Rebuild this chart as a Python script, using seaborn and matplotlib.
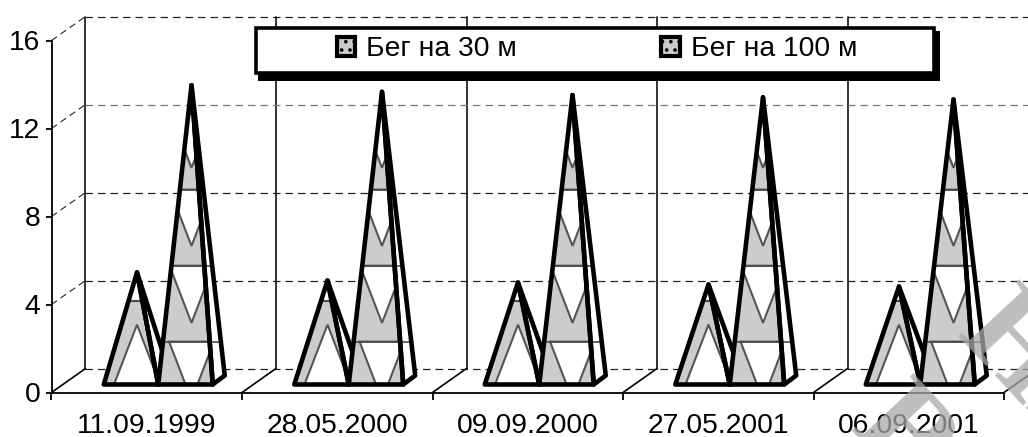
import numpy as np
import pandas as pd
import matplotlib
matplotlib.use('Agg')
import matplotlib.pyplot as plt
import seaborn as sns
from matplotlib.patches import Patch, Polygon, Rectangle
from matplotlib.transforms import Affine2D

# valores
datas = ['11.09.1999', '28.05.2000', '09.09.2000', '27.05.2001', '06.09.2001']
corrida_30 = [4.89, 4.52, 4.43, 4.34, 4.25]
corrida_100 = [13.4, 13.1, 12.95, 12.85, 12.75]
nomes = ['Бег на 30 м', 'Бег на 100 м']
ticks_y = [0, 4, 8, 12, 16]

df = pd.DataFrame({
    'Data': datas * 2,
    'Tempo': corrida_30 + corrida_100,
    'Prova': [nomes[0]] * 5 + [nomes[1]] * 5,
})

W, H = 1028, 437
CINZA = '#cccccc'
FONTE = 20.3
sns.set_theme(style='white')
plt.rcParams['font.family'] = ['Liberation Sans', 'DejaVu Sans']
plt.rcParams['hatch.linewidth'] = 1.4

fig = plt.figure(figsize=(W / 100, H / 100), dpi=100)
ax = fig.add_axes([51.5 / W, (H - 392.5) / H, 952.5 / W, 352 / H])

sns.barplot(data=df, x='Data', y='Tempo', hue='Prova', order=datas, width=0.572,
            gap=0, legend=False, ax=ax)
ax.set_xlim(-0.5, 4.5)
ax.set_ylim(0, 16)
ax.set_xlabel('')
ax.set_ylabel('')

# deslocamentos de profundidade (pixels)
fundo = ax.transData + Affine2D().translate(34, 24)
face = ax.transData + Affine2D().translate(11.5, 8)
px_x = 952.5 / 5   # pixels por categoria
px_y = 22          # pixels por unidade
prof_x, prof_y = 12 / px_x, 9 / px_y
inc = (1 / 2.6) * px_y / px_x  # abertura do chevron, x por unidade de y

# paredes e grade
bordas = np.arange(-0.5, 4.6)
for b in bordas:
    if b < 4.5:
        ax.plot([b, b], [0, 16], transform=fundo, color='#222222', lw=1.3, clip_on=False, zorder=1)
    # piso
    ax.plot([b, b + 34 / px_x], [0, 24 / px_y], color='black', lw=1.2, clip_on=False, zorder=1)
for v in ticks_y:
    cor = '#777777' if v == 12 else '#222222'
    ax.plot([-0.5, 4.5], [v, v], transform=fundo, color=cor, lw=0.9,
            dashes=(6, 4), clip_on=False, zorder=1)
    if v > 0:
        ax.plot([-0.5, -0.5 + 34 / px_x], [v, v + 24 / px_y], color='#222222', lw=0.8,
                dashes=(6, 4), clip_on=False, zorder=1)


def piramide(barra, curta, z):
    x0 = barra.get_x()
    x1 = x0 + barra.get_width()
    altura = barra.get_height()
    barra.remove()
    xc = (x0 + x1) / 2
    topo = (xc + prof_x / 2, altura + prof_y / 2)
    tri = [(x0, 0), (x1, 0), topo]
    lado = [(x1, 0), (x1 + prof_x, prof_y), topo]

    sombra = Polygon(lado, closed=True, transform=face, fc='white', ec='none', zorder=z)
    ax.add_patch(sombra)
    sombra.set_clip_on(False)
    base = Polygon(tri, closed=True, transform=face, fc=CINZA, ec='none', zorder=z)
    ax.add_patch(base)
    base.set_clip_on(False)

    # textura esticada: faixas com chevrons brancos
    partes = []
    xa = topo[0]
    if curta:
        vert = 2.72
        partes.append(([(xa - 3 * inc, vert - 3), (xa + 3 * inc, vert - 3), (xa, vert)], None))
        partes.append(([(x0, 3.8), (x1 + prof_x, 3.8), (x1 + prof_x, 7), (x0, 7)], 3.8))
    else:
        linhas = [1.95, 5.4, 8.86, 12.3]
        vertices = [-0.7, 2.8, 6.3, 9.85]
        for lin, vv in zip(linhas, vertices):
            d = lin - vv
            partes.append(([(xa, vv), (xa - d * inc, lin), (xa + d * inc, lin)], lin))
    for pts, lin in partes:
        p = Polygon(pts, closed=True, transform=face, fc='white', ec='#555555', lw=1.5, zorder=z + 0.01)
        ax.add_patch(p)
        p.set_clip_path(base)
        if lin is not None:
            for alvo in (base, sombra):
                ln, = ax.plot([x0, x1 + prof_x], [lin, lin], transform=face, color='#4a4a4a',
                              lw=1.2, zorder=z + 0.02)
                ln.set_clip_path(alvo)

    # contornos grossos
    for pts in (lado, tri):
        c = Polygon(pts, closed=True, transform=face, fc='none', ec='black', lw=3.3,
                    joinstyle='round', zorder=z + 0.03)
        ax.add_patch(c)
        c.set_clip_on(False)


for i, barra in enumerate(list(ax.patches)):
    piramide(barra, i < len(datas), 3 + i * 0.1)

# eixos
sns.despine(ax=ax, top=True, right=True)
for lado_ax in ('left', 'bottom'):
    ax.spines[lado_ax].set_linewidth(1.3)
    ax.spines[lado_ax].set_color('black')
    ax.spines[lado_ax].set_zorder(5)
ax.set_yticks(ticks_y)
ax.set_xticks(bordas)
ax.set_xticklabels([])
ax.set_xticks(range(5), labels=datas, minor=True)
ax.tick_params(axis='y', which='major', left=True, length=4, width=1.3, color='black',
               labelsize=FONTE, pad=4, labelcolor='black')
ax.tick_params(axis='x', which='major', bottom=True, length=5, width=1.3, color='black')
ax.tick_params(axis='x', which='minor', bottom=False, labelsize=FONTE, pad=11, labelcolor='black')

# legenda: caixa com sombra e entradas centradas
fig.add_artist(Rectangle((258 / W, (H - 81) / H), 682 / W, 50 / H, transform=fig.transFigure,
                         fc='black', ec='black', lw=0, zorder=9))
fig.add_artist(Rectangle((255.5 / W, (H - 72.5) / H), 678 / W, 44 / H, transform=fig.transFigure,
                         fc='white', ec='black', lw=2.6, zorder=9.5))
alcas = [Patch(fc=CINZA, ec='black', lw=3, hatch='..') for _ in nomes]
leg = fig.legend(alcas, nomes, ncol=2, loc='center', bbox_to_anchor=(597 / W, (H - 49.5) / H),
                 fontsize=FONTE, frameon=False, handlelength=0.66, handleheight=0.66,
                 handletextpad=0.4, columnspacing=5.1, borderaxespad=0, borderpad=0,
                 labelcolor='black')
leg.set_zorder(10)

# marca d'agua
for letras, cx, cy in (('НИ', 1045, 388), ('В', 900, 440)):
    fig.text(cx / W, (H - cy) / H, letras, rotation=-47, color='#a8a8a8', fontsize=92,
             family='Liberation Serif', fontweight='bold', ha='center', va='center',
             alpha=0.75, zorder=20)

fig.savefig('out.png', dpi=100)
